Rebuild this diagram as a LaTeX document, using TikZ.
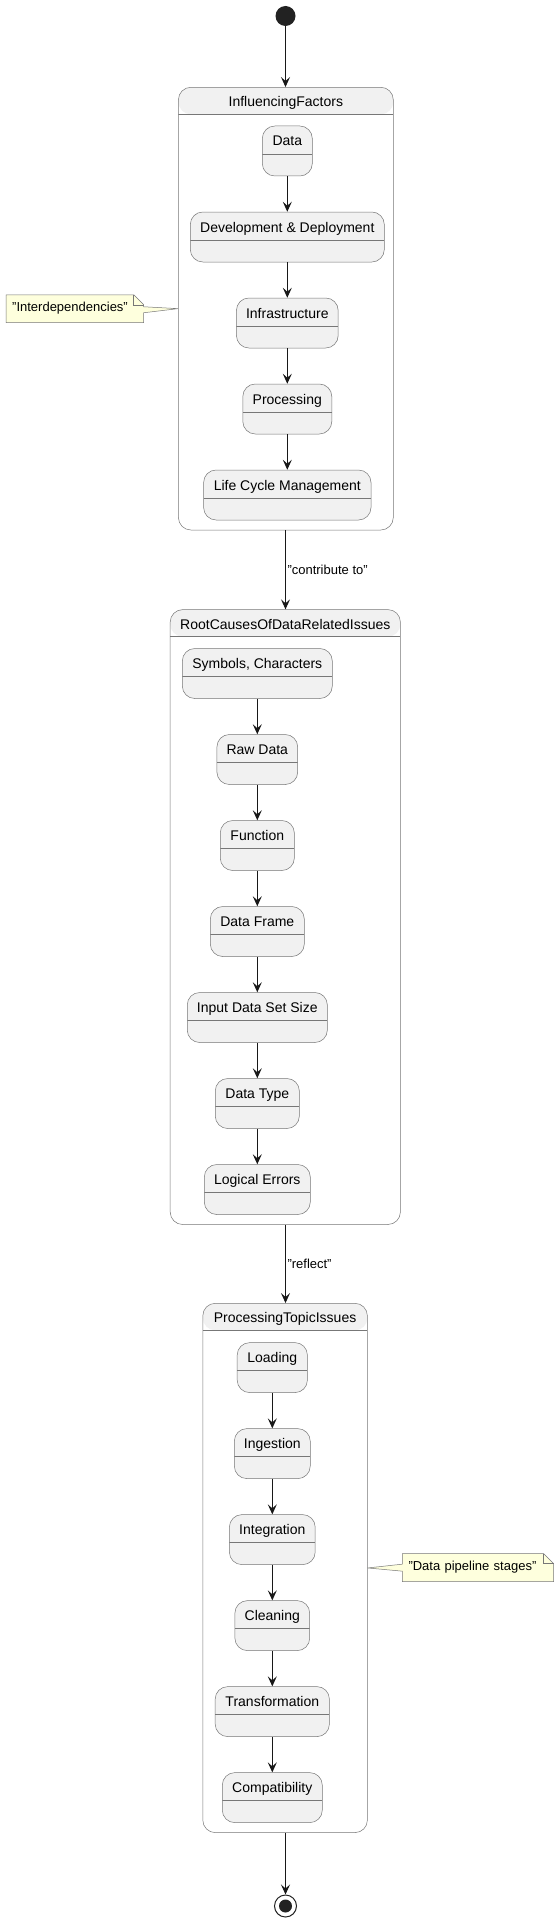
\documentclass[tikz,border=0pt]{standalone}
\usepackage{fontspec}
\setmainfont{Liberation Sans}
\usetikzlibrary{arrows.meta,backgrounds}
\definecolor{stfill}{HTML}{F1F1F1}
\definecolor{ln}{HTML}{181818}
\definecolor{bd}{HTML}{777777}
\definecolor{notefill}{HTML}{FEFFDD}
\definecolor{dot}{HTML}{222222}
\tikzset{
  stbox/.style={draw=bd, line width=0.5pt, fill=stfill, rounded corners=12.5pt,
    minimum height=50pt, inner xsep=0pt, inner ysep=0pt,
    text height=20pt, text depth=30pt, font=\fontsize{14}{16}\selectfont,
    path picture={\draw[bd, line width=0.5pt]
      ([yshift=-28pt]path picture bounding box.north west) --
      ([yshift=-28pt]path picture bounding box.north east);}},
  contbox/.style={draw=bd, line width=0.5pt, fill=white, rounded corners=12.5pt,
    inner xsep=0pt, inner ysep=0pt, text height=19.5pt,
    font=\fontsize{14}{16}\selectfont,
    path picture={\fill[stfill] (path picture bounding box.north west) rectangle
      ([yshift=-27pt]path picture bounding box.north east);
      \draw[bd, line width=0.5pt]
      ([yshift=-27pt]path picture bounding box.north west) --
      ([yshift=-27pt]path picture bounding box.north east);}},
  arr/.style={draw=ln, line width=1pt, -{Stealth[length=10pt,width=9pt,inset=4pt]}},
  notetext/.style={inner xsep=6pt, inner ysep=0pt, minimum height=27.5pt,
    text height=16.5pt, text depth=11pt, align=left,
    font=\fontsize{13}{15}\selectfont},
  noteshape/.style={draw=bd, line width=0.5pt, fill=notefill, line join=miter},
  lbl/.style={inner sep=0pt, font=\fontsize{13}{15}\selectfont},
  startdot/.style={circle, fill=dot, minimum size=20pt, inner sep=0pt},
  enddot/.style={circle, draw=dot, line width=1pt, fill=white, minimum size=22pt, inner sep=0pt,
    path picture={\fill[dot] (path picture bounding box.center) circle (6.5pt);}}
}
\begin{document}
\begin{tikzpicture}[x=1pt, y=-1pt]
\useasboundingbox (0,0) rectangle (556,1921);
\begin{scope}[on background layer]
\fill[white] (0,0) rectangle (556,1921);
\end{scope}

% start
\node[startdot] (start) at (285.5,16) {};

% Influencing Factors
\node[contbox, minimum width=214.9pt, minimum height=442.7pt, text depth=423.2pt] (IF) at (285.85,308.65) {InfluencingFactors};
\node[stbox, minimum width=50pt] (a1) at (287.3,151) {Data};
\node[stbox, minimum width=194pt] (a2) at (287.3,237) {Development \& Deployment};
\node[stbox, minimum width=101.8pt] (a3) at (287.3,323) {Infrastructure};
\node[stbox, minimum width=89pt] (a4) at (287.3,409) {Processing};
\node[stbox, minimum width=167.4pt] (a5) at (287.3,495) {Life Cycle Management};
\draw[arr] (a1) -- (a2);
\draw[arr] (a2) -- (a3);
\draw[arr] (a3) -- (a4);
\draw[arr] (a4) -- (a5);

% Root causes
\node[contbox, minimum width=230.2pt, minimum height=614.9pt, text depth=595.4pt] (RC) at (285.3,917.05) {RootCausesOfDataRelatedIssues};
\node[stbox, minimum width=150pt] (b1) at (257.3,673.5) {Symbols, Characters};
\node[stbox, minimum width=80.8pt] (b2) at (257.3,759.5) {Raw Data};
\node[stbox, minimum width=74.1pt] (b3) at (257.3,845.5) {Function};
\node[stbox, minimum width=94pt] (b4) at (257.3,931.5) {Data Frame};
\node[stbox, minimum width=140.1pt] (b5) at (257.3,1017.5) {Input Data Set Size};
\node[stbox, minimum width=84.1pt] (b6) at (257.3,1103.5) {Data Type};
\node[stbox, minimum width=106pt] (b7) at (257.3,1189.5) {Logical Errors};
\draw[arr] (b1) -- (b2);
\draw[arr] (b2) -- (b3);
\draw[arr] (b3) -- (b4);
\draw[arr] (b4) -- (b5);
\draw[arr] (b5) -- (b6);
\draw[arr] (b6) -- (b7);

% Processing topic issues
\node[contbox, minimum width=164.6pt, minimum height=529.3pt, text depth=509.8pt] (PT) at (285.1,1567.95) {ProcessingTopicIssues};
\node[stbox, minimum width=70.2pt] (c1) at (272.3,1367.6) {Loading};
\node[stbox, minimum width=75.9pt] (c2) at (272.3,1453.6) {Ingestion};
\node[stbox, minimum width=85.8pt] (c3) at (272.3,1539.6) {Integration};
\node[stbox, minimum width=74.8pt] (c4) at (272.3,1625.6) {Cleaning};
\node[stbox, minimum width=114.2pt] (c5) at (272.3,1711.6) {Transformation};
\node[stbox, minimum width=100pt] (c6) at (272.3,1797.6) {Compatibility};
\draw[arr] (c1) -- (c2);
\draw[arr] (c2) -- (c3);
\draw[arr] (c3) -- (c4);
\draw[arr] (c4) -- (c5);
\draw[arr] (c5) -- (c6);

% end
\node[enddot] (end) at (285.5,1906) {};

% connectors between groups
\draw[arr] (start) -- (start |- IF.north);
\draw[arr] (start |- IF.south) -- (start |- RC.north)
  node[lbl, midway, anchor=west, xshift=1.5pt] (l1) {"contribute to"};
\draw[arr] (start |- RC.south) -- (start |- PT.north)
  node[lbl, midway, anchor=west, xshift=1.5pt] (l2) {"reflect"};
\draw[arr] (end |- PT.south) -- (end);

% notes
\node[notetext, text width=125.3pt, anchor=west] (n1) at (6,308.75) {"Interdependencies"};
\node[notetext, text width=139pt, anchor=west] (n2) at (402.3,1567.65) {"Data pipeline stages"};
\begin{scope}[on background layer]
\filldraw[noteshape] (n1.north west) -- ([xshift=-10pt]n1.north east)
  -- ([yshift=-10pt]n1.north east) -- ([yshift=2pt]n1.east) -- (IF.west)
  -- ([yshift=-4pt]n1.east) -- (n1.south east) -- (n1.south west) -- cycle;
\draw[bd, line width=0.5pt] ([xshift=-10pt]n1.north east) -- ([xshift=-10pt,yshift=-10pt]n1.north east) -- ([yshift=-10pt]n1.north east);
\filldraw[noteshape] (n2.north west) -- ([xshift=-10pt]n2.north east)
  -- ([yshift=-10pt]n2.north east) -- (n2.south east) -- (n2.south west)
  -- ([yshift=-3.5pt]n2.west) -- (PT.east) -- ([yshift=3.5pt]n2.west) -- cycle;
\draw[bd, line width=0.5pt] ([xshift=-10pt]n2.north east) -- ([xshift=-10pt,yshift=-10pt]n2.north east) -- ([yshift=-10pt]n2.north east);
\end{scope}
\end{tikzpicture}
\end{document}
